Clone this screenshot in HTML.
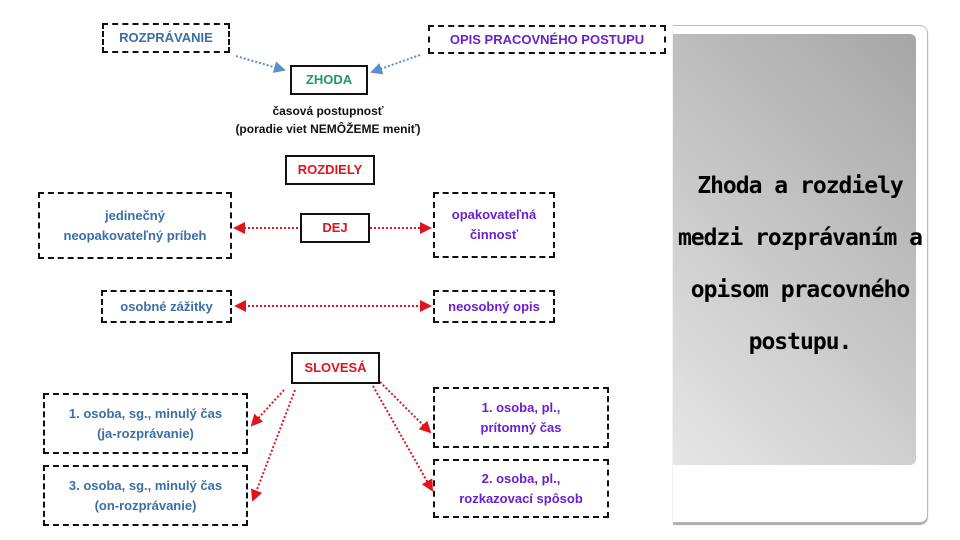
<!DOCTYPE html>
<html><head><meta charset="utf-8"><style>
body{margin:0;width:960px;height:540px;background:#fff;position:relative;overflow:hidden;font-family:"Liberation Sans",sans-serif;}
.b{position:absolute;box-sizing:border-box;border:2px dashed #111;display:flex;align-items:center;justify-content:center;text-align:center;font-weight:bold;font-size:13px;line-height:20px;}
.s{border:2px solid #111;}
.bl{color:#3a6fa8}.pu{color:#6a1fd0}.gr{color:#1f9a5a}.rd{color:#e0141e}
.t{position:absolute;font-weight:bold;font-size:12px;text-align:center;color:#111;}
#card{position:absolute;left:673px;top:25px;width:254px;height:496px;background:#fff;border:1px solid #bbb;border-left:none;border-radius:0 8px 8px 0;box-shadow:0 2px 1px #aaa;}
#inner{position:absolute;left:673px;top:34px;width:243px;height:431px;border-radius:0 6px 6px 0;background:linear-gradient(45deg,#e6e6e6,#a6a6a6);}
#txt{position:absolute;left:655px;top:160px;width:290px;text-align:center;font-size:23px;line-height:52px;font-weight:bold;color:#000;font-family:"DejaVu Sans Mono","Liberation Mono",monospace;letter-spacing:-1px;}
</style></head><body>
<div id="card"></div><div id="inner"></div>
<div id="txt">Zhoda a rozdiely<br>medzi rozprávaním a<br>opisom pracovného<br>postupu.</div>
<svg width="960" height="540" style="position:absolute;left:0;top:0">
<defs>
<marker id="ab" markerWidth="6" markerHeight="6" refX="5" refY="3" orient="auto"><path d="M0,0L6,3L0,6z" fill="#5a8fc8"/></marker>
<marker id="ar" markerWidth="6" markerHeight="6" refX="5" refY="3" orient="auto"><path d="M0,0L6,3L0,6z" fill="#e0141e"/></marker>
<marker id="ars" markerWidth="6" markerHeight="6" refX="1" refY="3" orient="auto"><path d="M6,0L0,3L6,6z" fill="#e0141e"/></marker>
</defs>
<g stroke-width="2" stroke-dasharray="2,2" fill="none">
<line x1="236" y1="56" x2="284" y2="70" stroke="#5a8fc8" marker-end="url(#ab)"/>
<line x1="420" y1="55" x2="372" y2="72" stroke="#5a8fc8" marker-end="url(#ab)"/>
<g stroke="#e0141e">
<line x1="298" y1="228" x2="235" y2="228" marker-end="url(#ar)"/>
<line x1="370" y1="228" x2="430" y2="228" marker-end="url(#ar)"/>
<line x1="236" y1="306" x2="430" y2="306" marker-start="url(#ars)" marker-end="url(#ar)"/>
<line x1="284" y1="390" x2="252" y2="425" marker-end="url(#ar)"/>
<line x1="295" y1="390" x2="253" y2="500" marker-end="url(#ar)"/>
<line x1="380" y1="382" x2="430" y2="432" marker-end="url(#ar)"/>
<line x1="373" y1="386" x2="432" y2="490" marker-end="url(#ar)"/>
</g></g></svg>
<div class="b bl" style="left:102px;top:23px;width:128px;height:30px">ROZPRÁVANIE</div>
<div class="b pu" style="left:428px;top:25px;width:238px;height:29px">OPIS PRACOVNÉHO POSTUPU</div>
<div class="b s gr" style="left:290px;top:65px;width:78px;height:30px">ZHODA</div>
<div class="t" style="left:208px;top:102px;width:240px;line-height:18px">časová postupnosť<br>(poradie viet NEMÔŽEME meniť)</div>
<div class="b s rd" style="left:285px;top:155px;width:90px;height:30px">ROZDIELY</div>
<div class="b bl" style="left:38px;top:192px;width:194px;height:67px">jedinečný<br>neopakovateľný príbeh</div>
<div class="b s rd" style="left:300px;top:213px;width:70px;height:30px">DEJ</div>
<div class="b pu" style="left:433px;top:192px;width:122px;height:66px">opakovateľná<br>činnosť</div>
<div class="b bl" style="left:101px;top:290px;width:131px;height:33px">osobné zážitky</div>
<div class="b pu" style="left:433px;top:290px;width:122px;height:33px">neosobný opis</div>
<div class="b s rd" style="left:291px;top:352px;width:89px;height:32px">SLOVESÁ</div>
<div class="b bl" style="left:43px;top:393px;width:205px;height:61px">1. osoba, sg., minulý čas<br>(ja-rozprávanie)</div>
<div class="b bl" style="left:43px;top:465px;width:205px;height:61px">3. osoba, sg., minulý čas<br>(on-rozprávanie)</div>
<div class="b pu" style="left:433px;top:387px;width:176px;height:61px">1. osoba, pl.,<br>prítomný čas</div>
<div class="b pu" style="left:433px;top:459px;width:176px;height:59px">2. osoba, pl.,<br>rozkazovací spôsob</div>
</body></html>
